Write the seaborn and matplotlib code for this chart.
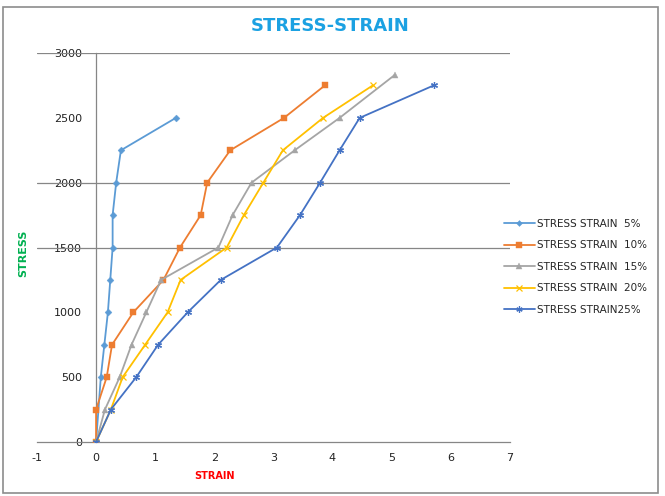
import numpy as np
import pandas as pd
import seaborn as sns
import matplotlib.pyplot as plt
from matplotlib.patches import Rectangle

# values
stress_5 = [0, 500, 750, 1000, 1250, 1500, 1750, 2000, 2250, 2500]
strain_5 = [0, 0.08, 0.14, 0.20, 0.24, 0.28, 0.28, 0.34, 0.42, 1.35]

stress_10 = [0, 250, 500, 750, 1000, 1250, 1500, 1750, 2000, 2250, 2500, 2750]
strain_10 = [0, 0.0, 0.18, 0.27, 0.63, 1.14, 1.42, 1.77, 1.88, 2.27, 3.18, 3.87]

stress_15 = [0, 250, 500, 750, 1000, 1250, 1500, 1750, 2000, 2250, 2500, 2830]
strain_15 = [0, 0.15, 0.40, 0.60, 0.85, 1.10, 2.07, 2.31, 2.63, 3.36, 4.12, 5.05]

stress_20 = [0, 250, 500, 750, 1000, 1250, 1500, 1750, 2000, 2250, 2500, 2750]
strain_20 = [0, 0.25, 0.45, 0.83, 1.21, 1.43, 2.21, 2.50, 2.83, 3.16, 3.84, 4.68]

stress_25 = [0, 250, 500, 750, 1000, 1250, 1500, 1750, 2000, 2250, 2500, 2750]
strain_25 = [0, 0.25, 0.68, 1.05, 1.55, 2.11, 3.06, 3.45, 3.79, 4.12, 4.46, 5.71]

labels = ['STRESS STRAIN  5%', 'STRESS STRAIN  10%', 'STRESS STRAIN  15%',
          'STRESS STRAIN  20%', 'STRESS STRAIN25%']
colors = ['#5B9BD5', '#ED7D31', '#A5A5A5', '#FFC000', '#4472C4']
markers = ['D', 's', '^', 'x', (6, 2, 0)]
msizes = [3.5, 5, 5, 4.5, 5]

# only these gridlines show in the reference
grid_levels = [1500, 2000, 3000]

series = [(strain_5, stress_5), (strain_10, stress_10), (strain_15, stress_15),
          (strain_20, stress_20), (strain_25, stress_25)]
df = pd.concat([pd.DataFrame({'strain': x, 'stress': y, 'series': lab})
                for (x, y), lab in zip(series, labels)], ignore_index=True)

sns.set_style('white')
plt.rcParams['font.family'] = ['DejaVu Sans']
plt.rcParams['axes.unicode_minus'] = False

fig = plt.figure(figsize=(6.65, 4.96), dpi=100)
ax = fig.add_axes([0.0556, 0.109, 0.711, 0.784])

handles = []
for lab, col, mk, ms in zip(labels, colors, markers, msizes):
    sub = df[df['series'] == lab]
    thin = mk in ('x', (6, 2, 0))
    sns.lineplot(data=sub, x='strain', y='stress', sort=False, estimator=None,
                 color=col, marker=mk, markersize=ms, markeredgecolor=col,
                 markeredgewidth=0.9 if thin else 0.3,
                 linewidth=1.3, ax=ax, legend=False, zorder=3)
    handles.append(plt.Line2D([], [], color=col, marker=mk, markersize=ms - 0.5,
                              markeredgecolor=col, markeredgewidth=0.9 if thin else 0.3,
                              linewidth=1.3, label=lab))

ax.set_xlim(-1, 7)
ax.set_ylim(0, 3000)
ax.set_xticks(range(-1, 8))
ax.set_yticks(range(0, 3001, 500))

for g in grid_levels:
    ax.axhline(g, color='#868686', linewidth=0.9, zorder=1)

for s in ['top', 'right']:
    ax.spines[s].set_visible(False)
ax.spines['left'].set_position(('data', 0))
ax.spines['left'].set_color('#868686')
ax.spines['bottom'].set_color('#868686')
ax.spines['left'].set_linewidth(0.9)
ax.spines['bottom'].set_linewidth(0.9)
ax.tick_params(axis='y', length=0, pad=10, labelsize=8, labelcolor='#222222')
ax.tick_params(axis='x', length=0, pad=8, labelsize=8, labelcolor='#222222')

ax.set_xlabel('STRAIN', color='#FF0000', fontsize=7, fontweight='bold')
ax.xaxis.set_label_coords(0.376, -0.075)
ax.set_ylabel('STRESS', color='#00B050', fontsize=8, fontweight='bold')
ax.yaxis.set_label_coords(-0.019, 0.486)

fig.text(0.497, 0.948, 'STRESS-STRAIN', ha='center', va='center',
         color='#1BA1E2', fontsize=13, fontweight='bold')

ax.legend(handles=handles, loc='center left', bbox_to_anchor=(0.978, 0.45),
          frameon=False, fontsize=7.5, handlelength=3.0, labelspacing=1.1,
          handletextpad=0.2, borderaxespad=0.0)

fig.patches.append(Rectangle((0.005, 0.006), 0.985, 0.98, transform=fig.transFigure,
                             fill=False, edgecolor='#8C8C8C', linewidth=1.2))

fig.savefig('out.png', dpi=100)
